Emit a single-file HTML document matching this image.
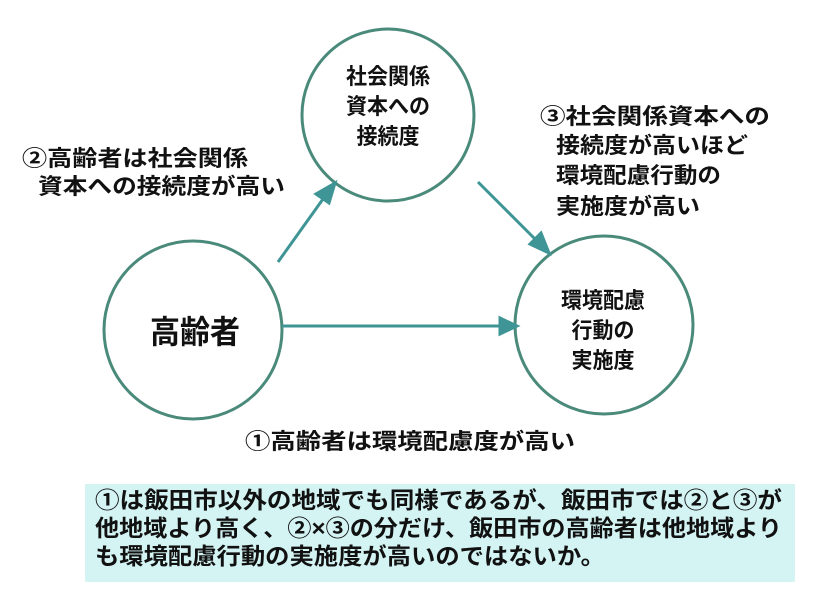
<!DOCTYPE html>
<html><head><meta charset="utf-8"><style>
body{margin:0;background:#fff;}
svg text{font-family:"Liberation Sans","Noto Sans CJK JP",sans-serif;font-weight:bold;fill:#111;}
</style></head><body>
<svg width="820" height="600" viewBox="0 0 820 600" xmlns="http://www.w3.org/2000/svg">
<g fill="none" stroke="#4a8a7a" stroke-width="3">
<circle cx="388" cy="115" r="86"/>
<circle cx="193" cy="330" r="89"/>
<circle cx="604" cy="325" r="89"/>
</g>
<g stroke="#3f9595" stroke-width="3" fill="#3f9595">
<line x1="278" y1="262" x2="323" y2="199"/>
<polygon points="335,183 316,194 329,203"/>
<line x1="478" y1="182" x2="536" y2="240"/>
<polygon points="549,253 530,244 541,233"/>
<line x1="282" y1="326" x2="500" y2="326"/>
<polygon points="517,326 500,318 500,334"/>
</g>
<g font-size="22" text-anchor="middle" lengthAdjust="spacingAndGlyphs">
<text x="388" y="84" textLength="84" lengthAdjust="spacingAndGlyphs">社会関係</text>
<text x="388" y="114" textLength="84" lengthAdjust="spacingAndGlyphs">資本への</text>
<text x="388" y="144" textLength="63" lengthAdjust="spacingAndGlyphs">接続度</text>
<text x="603" y="308" textLength="84" lengthAdjust="spacingAndGlyphs">環境配慮</text>
<text x="603" y="338" textLength="63" lengthAdjust="spacingAndGlyphs">行動の</text>
<text x="603" y="368" textLength="63" lengthAdjust="spacingAndGlyphs">実施度</text>
</g>
<text x="150" y="343" font-size="32" textLength="90" lengthAdjust="spacingAndGlyphs">高齢者</text>
<g font-size="22">
<text x="22" y="166" textLength="226" lengthAdjust="spacingAndGlyphs">②高齢者は社会関係</text>
<text x="38" y="194" textLength="247" lengthAdjust="spacingAndGlyphs">資本への接続度が高い</text>
<text x="540" y="124" textLength="230" lengthAdjust="spacingAndGlyphs">③社会関係資本への</text>
<text x="556" y="153" textLength="192" lengthAdjust="spacingAndGlyphs">接続度が高いほど</text>
<text x="556" y="183" textLength="165" lengthAdjust="spacingAndGlyphs">環境配慮行動の</text>
<text x="556" y="214" textLength="144" lengthAdjust="spacingAndGlyphs">実施度が高い</text>
<text x="245" y="449" textLength="330" lengthAdjust="spacingAndGlyphs">①高齢者は環境配慮度が高い</text>
</g>
<rect x="85" y="484" width="710" height="98" fill="#d4f3f3"/>
<g font-size="23">
<text x="95" y="508" textLength="687" lengthAdjust="spacingAndGlyphs">①は飯田市以外の地域でも同様であるが、飯田市では②と③が</text>
<text x="95" y="536" textLength="687" lengthAdjust="spacingAndGlyphs">他地域より高く、②×③の分だけ、飯田市の高齢者は他地域より</text>
<text x="95" y="564" textLength="510" lengthAdjust="spacingAndGlyphs">も環境配慮行動の実施度が高いのではないか。</text>
</g>
</svg>
</body></html>
